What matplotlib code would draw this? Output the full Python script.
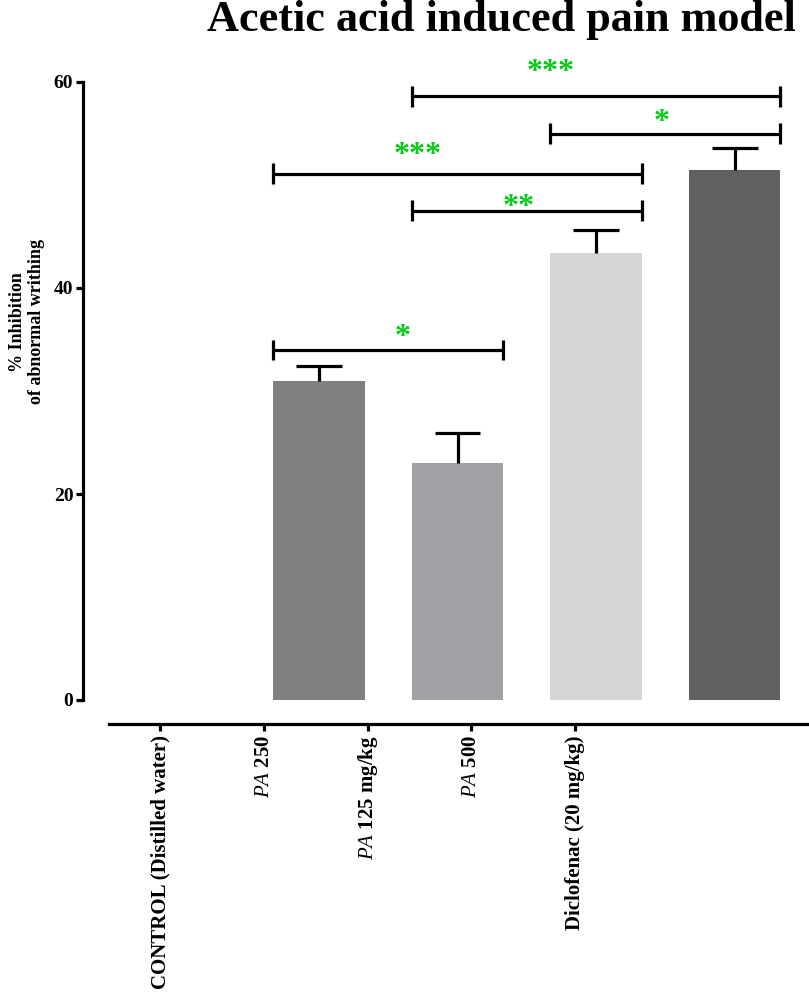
import matplotlib
matplotlib.use("Agg")
import matplotlib.pyplot as plt
import numpy as np

plt.rcParams['font.family'] = ['Liberation Serif', 'DejaVu Serif']
plt.rcParams['mathtext.fontset'] = 'custom'
plt.rcParams['mathtext.it'] = 'Liberation Serif:italic'
plt.rcParams['mathtext.rm'] = 'Liberation Serif:bold'

# ---- data ----
groups = ["CONTROL (Distilled water)", "PA 250", "PA 125 mg/kg", "PA 500", "Diclofenac (20 mg/kg)"]
tick_labels = ["CONTROL (Distilled water)", r"$\mathit{PA}$ 250", r"$\mathit{PA}$ 125 mg/kg",
               r"$\mathit{PA}$ 500", "Diclofenac (20 mg/kg)"]
means = [0.0, 31.0, 23.0, 43.4, 51.5]
sems = [0.0, 1.4, 2.9, 2.2, 2.1]
bar_colors = ["#ffffff", "#7f7f7f", "#a2a1a6", "#d5d5d5", "#606060"]
yticks = [0, 20, 40, 60]

# significance brackets
br_left = [1.67, 2.67, 0.67, 1.67, 0.67]
br_right = [4.33, 4.33, 3.33, 3.33, 2.33]
br_height = [58.6, 55.0, 51.1, 47.5, 34.0]
br_label = ["***", "*", "***", "**", "*"]
star_x = [2.67, 3.47, 1.71, 2.44, 1.60]
star_y = [60.9, 56.1, 52.9, 47.8, 35.2]

W, H = 809, 992
fig = plt.figure(figsize=(W / 100, H / 100), dpi=100)

# main axes: y axis at x=83 px, y=0 at 700 px, y=60 at 82 px
x0_px, x1_px = 83, 804
yb_px, yt_px = 700, 82
ax = fig.add_axes([x0_px / W, 1 - yb_px / H, (x1_px - x0_px) / W, (yb_px - yt_px) / H])
ax.set_ylim(0, 60)
ax.set_xlim(-0.704, 4.5)

x = np.arange(len(groups))
bw = 0.66
ax.bar(x, means, width=bw, color=bar_colors, edgecolor='none', zorder=2)
m = np.array(means)
e = np.array(sems)
sel = e > 0
ax.vlines(x[sel], m[sel], m[sel] + e[sel], color='black', lw=2.3, zorder=3)
ax.hlines(m[sel] + e[sel], x[sel] - 0.165, x[sel] + 0.165, color='black', lw=2.3, zorder=3)

for l, r, h in zip(br_left, br_right, br_height):
    ax.plot([l, r], [h, h], color='black', lw=2.3, clip_on=False, solid_capstyle='butt')
    ax.plot([l, l], [h - 1.0, h + 1.0], color='black', lw=2.3, clip_on=False, solid_capstyle='butt')
    ax.plot([r, r], [h - 1.0, h + 1.0], color='black', lw=2.3, clip_on=False, solid_capstyle='butt')
for sx, sy, lab in zip(star_x, star_y, br_label):
    ax.text(sx, sy, lab, color='#08c818', fontsize=23, fontweight='bold', ha='center',
            va='center', clip_on=False, zorder=4)

for s in ['top', 'right', 'bottom']:
    ax.spines[s].set_visible(False)
ax.spines['left'].set_linewidth(2.3)
ax.set_yticks(yticks)
ax.set_yticklabels([str(v) for v in yticks], fontsize=14, fontweight='bold')
ax.tick_params(axis='y', length=5, width=2.3, pad=2)
ax.set_xticks([])

# separate x axis (offset, as in the original)
xa_y_px = 724
xl_px, xr_px = 109, 809
ax2 = fig.add_axes([xl_px / W, 1 - xa_y_px / H, (xr_px - xl_px) / W, 0.0001])
ax2.set_xlim((xl_px - 160) / 103.75, (xr_px - 160) / 103.75)
for s in ['top', 'right', 'left']:
    ax2.spines[s].set_visible(False)
ax2.spines['bottom'].set_linewidth(2.3)
ax2.set_yticks([])
ax2.set_xticks(x)
ax2.set_xticklabels(tick_labels, rotation=90, fontsize=15, fontweight='bold', va='top')
ax2.tick_params(axis='x', length=5, width=2.3, pad=3)
ax2.patch.set_visible(False)

fig.text(501 / W, 1 - 20 / H, "Acetic acid induced pain model", fontsize=31.9, fontweight='bold',
         ha='center', va='center')
fig.text(27 / W, 1 - 322 / H, "% Inhibition\nof abnormal writhing", fontsize=13, fontweight='bold',
         rotation=90, ha='center', va='center', multialignment='center')

fig.savefig("out.png", dpi=100)
